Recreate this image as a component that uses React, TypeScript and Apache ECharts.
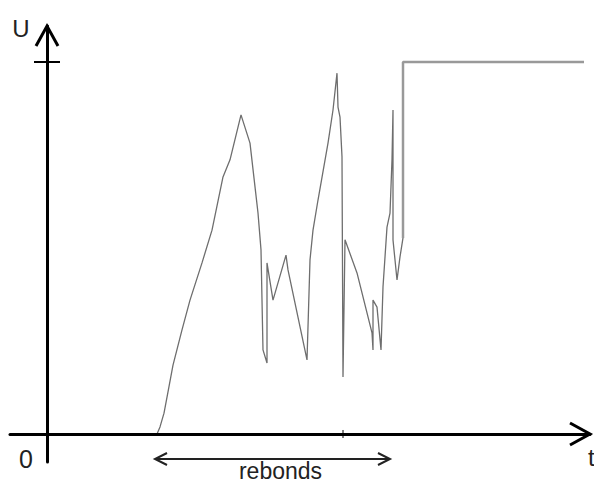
import React, { useEffect, useRef } from "react";
import * as echarts from "echarts";

// time (arbitrary units) and voltage U (normalised: 1 = the marked level)
const bounceT = [
  0, 110, 113, 117, 121, 126, 135, 143, 155, 165, 176, 183, 194, 203, 211, 214,
  216, 220, 220, 226, 239, 241, 260, 263, 266, 271, 281, 286, 290, 291, 293, 295,
  296, 298, 310, 325, 326, 326, 330, 334, 336, 340, 343, 345, 346, 346, 350, 353, 356,
];
const bounceU = [
  0, 0, 0.019, 0.056, 0.113, 0.185, 0.28, 0.36, 0.46, 0.548, 0.691, 0.737, 0.858, 0.782, 0.594, 0.495,
  0.226, 0.191, 0.46, 0.36, 0.481, 0.441, 0.199, 0.468, 0.548, 0.629, 0.782, 0.871, 0.97, 0.879, 0.852, 0.745,
  0.153, 0.522, 0.433, 0.272, 0.226, 0.36, 0.341, 0.226, 0.395, 0.556, 0.594, 0.737, 0.871, 0.522, 0.414, 0.476, 0.527,
];
const stableT = [356, 356, 537];
const stableU = [0.527, 1, 1];

const levelU = 1; // tick on the U axis
const markT = 296; // small tick on the t axis
const reboundSpan = [108, 343]; // double arrow "rebonds"

const xRange = [-37, 543];
const yRange = [-0.0753, 1.0968];

const FONT = '"Liberation Sans", Arial, sans-serif';

export default function App() {
  const ref = useRef<HTMLDivElement>(null);
  useEffect(() => {
    document.body.style.margin = "0";
    if (!ref.current) return;
    const chart = echarts.init(ref.current, undefined, { renderer: "svg" });
    const option: any = {
      animation: false,
      backgroundColor: "#fff",
      grid: { left: 10, top: 26, width: 580, height: 436, containLabel: false },
      xAxis: {
        type: "value",
        min: xRange[0],
        max: xRange[1],
        z: 5,
        axisLine: { onZero: true, lineStyle: { color: "#000", width: 3 } },
        axisTick: { show: false },
        axisLabel: { show: false },
        splitLine: { show: false },
      },
      yAxis: {
        type: "value",
        min: yRange[0],
        max: yRange[1],
        z: 5,
        axisLine: { onZero: true, lineStyle: { color: "#000", width: 3 } },
        axisTick: { show: false },
        axisLabel: { show: false },
        splitLine: { show: false },
      },
      series: [
        {
          type: "line",
          data: bounceT.map((t, i) => [t, bounceU[i]]),
          symbol: "none",
          z: 2,
          lineStyle: { color: "#6e6e6e", width: 1.3 },
          silent: true,
        },
        {
          type: "line",
          data: stableT.map((t, i) => [t, stableU[i]]),
          symbol: "none",
          z: 2,
          lineStyle: { color: "#999", width: 2.5 },
          silent: true,
        },
      ],
    };
    chart.setOption(option);

    const px = (t: number, u: number) => chart.convertToPixel({ gridIndex: 0 }, [t, u]) as number[];
    const origin = px(0, 0);
    const yTip = px(0, yRange[1]);
    const xTip = px(xRange[1], 0);
    const lvl = px(0, levelU);
    const mk = px(markT, 0);
    const a0 = px(reboundSpan[0], 0);
    const a1 = px(reboundSpan[1], 0);
    const ay = origin[1] + 25;
    const arm = { stroke: "#000", lineWidth: 3, fill: null };
    const arm2 = { stroke: "#222", lineWidth: 2, fill: null };

    chart.setOption({
      graphic: [
        { type: "polyline", z: 10, shape: { points: [[yTip[0] - 11, yTip[1] + 20], [yTip[0], yTip[1]], [yTip[0] + 11, yTip[1] + 20]] }, style: arm },
        { type: "polyline", z: 10, shape: { points: [[xTip[0] - 20, xTip[1] - 11], [xTip[0], xTip[1]], [xTip[0] - 20, xTip[1] + 11]] }, style: arm },
        { type: "line", z: 10, shape: { x1: lvl[0] - 13, y1: lvl[1], x2: lvl[0] + 13, y2: lvl[1] }, style: { stroke: "#000", lineWidth: 2 } },
        { type: "line", z: 10, shape: { x1: mk[0], y1: mk[1] - 4, x2: mk[0], y2: mk[1] + 4 }, style: { stroke: "#000", lineWidth: 1 } },
        { type: "line", z: 10, shape: { x1: a0[0], y1: ay, x2: a1[0], y2: ay }, style: { stroke: "#222", lineWidth: 2 } },
        { type: "polyline", z: 10, shape: { points: [[a0[0] + 12, ay - 6], [a0[0], ay], [a0[0] + 12, ay + 6]] }, style: arm2 },
        { type: "polyline", z: 10, shape: { points: [[a1[0] - 12, ay - 6], [a1[0], ay], [a1[0] - 12, ay + 6]] }, style: arm2 },
        { type: "text", z: 10, x: 21, y: 28, style: { text: "U", font: `24px ${FONT}`, fill: "#222", align: "center", verticalAlign: "middle" } },
        { type: "text", z: 10, x: origin[0] - 21, y: origin[1] + 25, style: { text: "0", font: `25px ${FONT}`, fill: "#222", align: "center", verticalAlign: "middle" } },
        { type: "text", z: 10, x: xTip[0] - 2, y: origin[1] + 24, style: { text: "t", font: `24px ${FONT}`, fill: "#222", align: "left", verticalAlign: "middle" } },
        { type: "text", z: 10, x: (a0[0] + a1[0]) / 2 + 8, y: origin[1] + 37, style: { text: "rebonds", font: `23px ${FONT}`, fill: "#222", align: "center", verticalAlign: "middle" } },
      ],
    });
    return () => chart.dispose();
  }, []);
  return <div ref={ref} style={{ width: 594, height: 484 }} />;
}
